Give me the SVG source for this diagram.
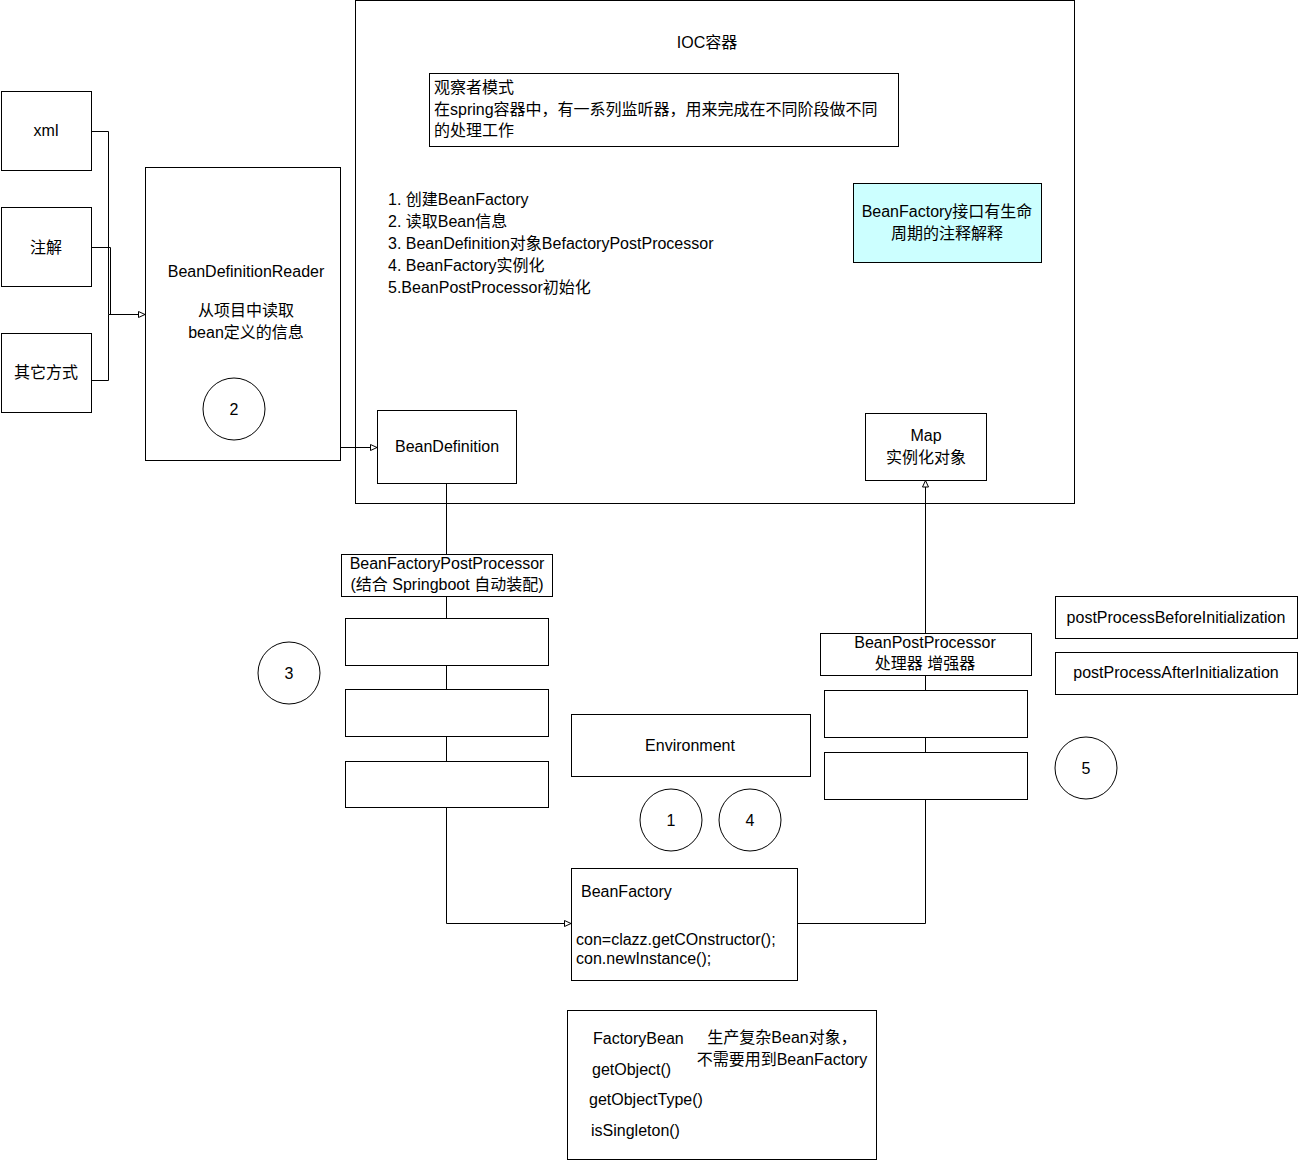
<svg xmlns="http://www.w3.org/2000/svg" width="1298" height="1160" viewBox="0 0 1298 1160">
<style>
.b{fill:#fff;stroke:#000;stroke-width:1}
.t{font-family:"Liberation Sans","Noto Sans CJK SC",sans-serif;font-size:16px;fill:#000}
.m{text-anchor:middle}
.c{fill:none;stroke:#000;stroke-width:1}
</style>
<defs>
<marker id="a" markerUnits="userSpaceOnUse" markerWidth="10" markerHeight="10" refX="7" refY="3.5" orient="auto">
<path d="M0.5,0.5 L7,3.5 L0.5,6.5 Z" fill="#fff" stroke="#000" stroke-width="1"/>
</marker>
</defs>
<rect width="1298" height="1160" fill="#fff"/>

<g id="ioc">
<rect class="b" x="355.5" y="0.5" width="719" height="503"/>
<text class="t m" x="707" y="48">IOC容器</text>
</g>
<g id="observer">
<rect class="b" x="429.5" y="73.5" width="469" height="73"/>
<text class="t" x="434" y="93">观察者模式</text>
<text class="t" x="434" y="115">在spring容器中，有一系列监听器，用来完成在不同阶段做不同</text>
<text class="t" x="434" y="136">的处理工作</text>
</g>
<g id="steps">
<text class="t" x="388" y="205">1. 创建BeanFactory</text>
<text class="t" x="388" y="227">2. 读取Bean信息</text>
<text class="t" x="388" y="249">3. BeanDefinition对象BefactoryPostProcessor</text>
<text class="t" x="388" y="271">4. BeanFactory实例化</text>
<text class="t" x="388" y="293">5.BeanPostProcessor初始化</text>
</g>
<g id="lifecycle">
<rect x="853.5" y="183.5" width="188" height="79" fill="#ccffff" stroke="#000"/>
<text class="t m" x="947" y="217">BeanFactory接口有生命</text>
<text class="t m" x="947" y="239">周期的注释解释</text>
</g>
<g id="xml">
<rect class="b" x="1.5" y="91.5" width="90" height="79"/>
<text class="t m" x="46" y="136">xml</text>
</g>
<g id="annotation">
<rect class="b" x="1.5" y="207.5" width="90" height="79"/>
<text class="t m" x="46" y="253">注解</text>
</g>
<g id="other">
<rect class="b" x="1.5" y="333.5" width="90" height="79"/>
<text class="t m" x="46" y="378">其它方式</text>
</g>
<g id="reader">
<rect class="b" x="145.5" y="167.5" width="195" height="293"/>
<text class="t m" x="246" y="277">BeanDefinitionReader</text>
<text class="t m" x="246" y="316">从项目中读取</text>
<text class="t m" x="246" y="338">bean定义的信息</text>
<circle class="b" cx="234" cy="409" r="31"/>
<text class="t m" x="234" y="415">2</text>
</g>
<g id="beandefinition">
<rect class="b" x="377.5" y="410.5" width="139" height="73"/>
<text class="t m" x="447" y="452">BeanDefinition</text>
</g>
<g id="map">
<rect class="b" x="865.5" y="413.5" width="121" height="67"/>
<text class="t m" x="926" y="441">Map</text>
<text class="t m" x="926" y="463">实例化对象</text>
</g>

<g id="connectors">
<path class="c" d="M91.5,131.5 H108.5 V314.5 H145" marker-end="url(#a)"/>
<path class="c" d="M91.5,247.5 H110.5 V314.5"/>
<path class="c" d="M91.5,380.5 H108.5 V314.5"/>
<path class="c" d="M340.5,447.5 H377" marker-end="url(#a)"/>
<path class="c" d="M446.5,483.5 V554"/>
<path class="c" d="M446.5,596.5 V618"/>
<path class="c" d="M446.5,665.5 V689"/>
<path class="c" d="M446.5,736.5 V761"/>
<path class="c" d="M446.5,807.5 V923.5 H571" marker-end="url(#a)"/>
<path class="c" d="M797.5,923.5 H925.5 V799.5"/>
<path class="c" d="M925.5,752.5 V737.5"/>
<path class="c" d="M925.5,690.5 V675.5"/>
<path class="c" d="M925.5,633.5 V480.5" marker-end="url(#a)"/>
</g>

<g id="bfpp">
<rect class="b" x="341.5" y="554.5" width="211" height="42"/>
<text class="t m" x="447" y="569">BeanFactoryPostProcessor</text>
<text class="t m" x="447" y="590">(结合 Springboot 自动装配)</text>
</g>
<g id="bfpp1"><rect class="b" x="345.5" y="618.5" width="203" height="47"/></g>
<g id="bfpp2"><rect class="b" x="345.5" y="689.5" width="203" height="47"/></g>
<g id="bfpp3"><rect class="b" x="345.5" y="761.5" width="203" height="46"/></g>
<g id="c3">
<circle class="b" cx="289" cy="673" r="31"/>
<text class="t m" x="289" y="679">3</text>
</g>
<g id="environment">
<rect class="b" x="571.5" y="714.5" width="239" height="62"/>
<text class="t m" x="690" y="751">Environment</text>
</g>
<g id="c1">
<circle class="b" cx="671" cy="820" r="31"/>
<text class="t m" x="671" y="826">1</text>
</g>
<g id="c4">
<circle class="b" cx="750" cy="820" r="31"/>
<text class="t m" x="750" y="826">4</text>
</g>
<g id="beanfactory">
<rect class="b" x="571.5" y="868.5" width="226" height="112"/>
<text class="t" x="581" y="897">BeanFactory</text>
<text class="t" x="576" y="945">con=clazz.getCOnstructor();</text>
<text class="t" x="576" y="964">con.newInstance();</text>
</g>
<g id="bpp">
<rect class="b" x="820.5" y="633.5" width="211" height="42"/>
<text class="t m" x="925" y="648">BeanPostProcessor</text>
<text class="t m" x="925" y="669">处理器 增强器</text>
</g>
<g id="bpp1"><rect class="b" x="824.5" y="690.5" width="203" height="47"/></g>
<g id="bpp2"><rect class="b" x="824.5" y="752.5" width="203" height="47"/></g>
<g id="before">
<rect class="b" x="1055.5" y="596.5" width="242" height="42"/>
<text class="t m" x="1176" y="623">postProcessBeforeInitialization</text>
</g>
<g id="after">
<rect class="b" x="1055.5" y="652.5" width="242" height="42"/>
<text class="t m" x="1176" y="678">postProcessAfterInitialization</text>
</g>
<g id="c5">
<circle class="b" cx="1086" cy="768" r="31"/>
<text class="t m" x="1086" y="774">5</text>
</g>
<g id="factorybean">
<rect class="b" x="567.5" y="1010.5" width="309" height="149"/>
<text class="t" x="593" y="1044">FactoryBean</text>
<text class="t" x="592" y="1075">getObject()</text>
<text class="t" x="589" y="1105">getObjectType()</text>
<text class="t" x="591" y="1136">isSingleton()</text>
<text class="t m" x="782" y="1043">生产复杂Bean对象，</text>
<text class="t m" x="782" y="1065">不需要用到BeanFactory</text>
</g>
</svg>
